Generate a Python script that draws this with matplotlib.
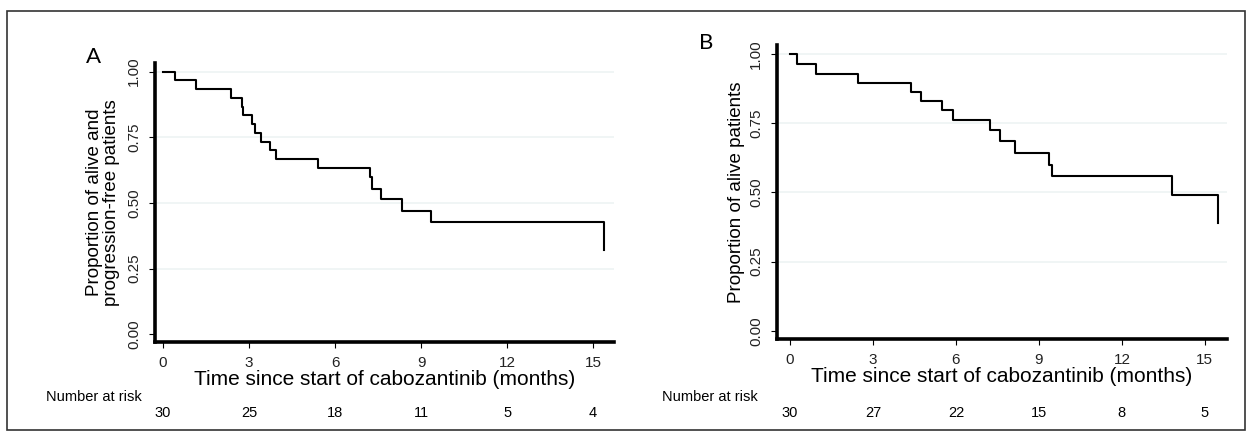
import matplotlib.pyplot as plt
from matplotlib.patches import Rectangle

plt.rcParams['font.family'] = ['Liberation Sans', 'DejaVu Sans']

# --- Daten ---
# A: progressionsfreies Überleben
time_a = [0, 0.42, 1.15, 2.36, 2.74, 2.80, 3.09, 3.20, 3.42, 3.73, 3.94,
          5.42, 7.22, 7.28, 7.60, 8.35, 9.34, 15.38]
surv_a = [1.00, 0.967, 0.933, 0.90, 0.867, 0.833, 0.80, 0.767, 0.733, 0.70, 0.667,
          0.633, 0.60, 0.552, 0.513, 0.471, 0.429, 0.32]
risk_a = [30, 25, 18, 11, 5, 4]

# B: Gesamtüberleben
time_b = [0, 0.24, 0.94, 2.45, 4.36, 4.72, 5.51, 5.88, 7.23, 7.61, 8.12,
          9.37, 9.46, 13.82, 15.48]
surv_b = [1.00, 0.963, 0.929, 0.897, 0.863, 0.831, 0.797, 0.763, 0.727, 0.685, 0.643,
          0.60, 0.559, 0.492, 0.391]
risk_b = [30, 27, 22, 15, 8, 5]

risk_ticks = [0, 3, 6, 9, 12, 15]
y_ticks = [0, 0.25, 0.5, 0.75, 1.0]

W, H = 1251, 437
fig = plt.figure(figsize=(W / 100, H / 100), dpi=100)


def px_axes(x0, y0, x1, y1):
    # Pixelkoordinaten (oben links) -> Figurenanteile
    return fig.add_axes([x0 / W, (H - y1) / H, (x1 - x0) / W, (y1 - y0) / H])


def km_panel(ax, t, s, risk, ylabel, xlim, letter, letter_xy, risk_label_x, ylpad):
    ax.step(t, s, where='post', color='black', linewidth=1.5)
    ax.set_xlim(*xlim)
    ax.set_ylim(-0.03, 1.033)
    ax.set_xticks(risk_ticks)
    ax.set_yticks(y_ticks)
    ax.set_yticklabels([f"{v:.2f}" for v in y_ticks], rotation=90, va='center')
    for v in y_ticks[1:]:
        ax.axhline(v, color='#eff4f4', linewidth=1.3, zorder=0)
    for side in ['top', 'right']:
        ax.spines[side].set_visible(False)
    for side in ['left', 'bottom']:
        ax.spines[side].set_linewidth(2.6)
    ax.tick_params(axis='both', length=4, width=0.8, pad=6, labelsize=11,
                   labelcolor='#222222')
    ax.set_xlabel("Time since start of cabozantinib (months)", fontsize=15, labelpad=0)
    ax.set_ylabel(ylabel, fontsize=13.5, linespacing=1.0, labelpad=ylpad)
    for x, n in zip(risk_ticks, risk):
        ax.annotate(str(n), xy=(x, 24), xycoords=('data', 'figure pixels'),
                    ha='center', va='center', fontsize=10.5)
    fig.text(risk_label_x / W, (H - 397) / H, "Number at risk", fontsize=10.5,
             ha='right', va='center')
    fig.text(letter_xy[0] / W, (H - letter_xy[1]) / H, letter, fontsize=16,
             family=['Lato', 'DejaVu Sans'], ha='center', va='center')


ax_a = px_axes(155, 63, 614, 342)
km_panel(ax_a, time_a, surv_a, risk_a,
         "Proportion of alive and\nprogression-free patients",
         (-0.28, 15.73), "A", (93, 57), 142, 5)

ax_b = px_axes(777, 45, 1227, 339)
km_panel(ax_b, time_b, surv_b, risk_b,
         "Proportion of alive patients",
         (-0.47, 15.8), "B", (706, 43), 758, 3)

# Rahmen um die gesamte Abbildung
fig.patches.append(Rectangle((7 / W, (H - 430) / H), (1245 - 7) / W, (430 - 11) / H,
                             transform=fig.transFigure, fill=False,
                             edgecolor='#333333', linewidth=1.2))

plt.savefig("out.png", dpi=100)
